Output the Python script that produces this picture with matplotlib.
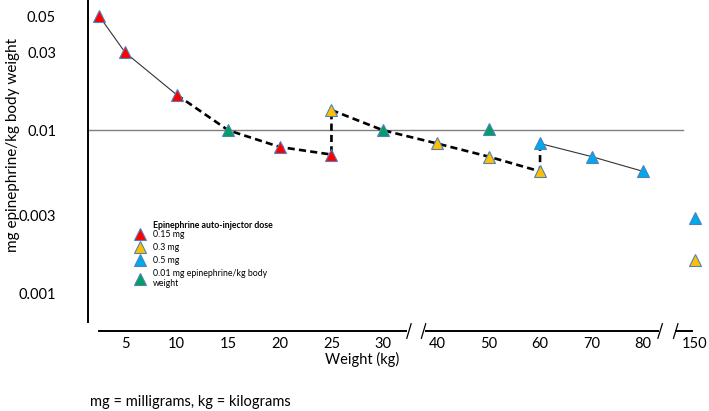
import numpy as np
import matplotlib.pyplot as plt
from matplotlib.lines import Line2D

plt.rcParams['font.family'] = ['Lato', 'DejaVu Sans']

# data (weight in kg, dose in mg/kg)
w_red = [2.5, 5, 10, 20, 25]
y_red = [0.05, 0.03, 0.0165, 0.0079, 0.0071]
w_yellow = [25, 40, 50, 60, 150]
y_yellow = [0.0133, 0.0083, 0.0069, 0.0056, 0.0016]
w_blue = [60, 70, 80, 150]
y_blue = [0.0083, 0.0069, 0.0056, 0.0029]
w_green = [15, 30, 50]
y_green = [0.01, 0.01, 0.0102]

# connecting lines
solid_a_w = [2.5, 5, 10]
solid_a_y = [0.05, 0.03, 0.0165]
dash_a_w = [10, 15, 20, 25, 25]
dash_a_y = [0.0165, 0.01, 0.0079, 0.0071, 0.0133]
dash_b_w = [25, 30, 40, 50, 60, 60]
dash_b_y = [0.0133, 0.01, 0.0083, 0.0069, 0.0056, 0.0083]
solid_b_w = [60, 70, 80, 82]
solid_b_y = [0.0083, 0.0069, 0.0056, 0.0054]

xticks = [5, 10, 15, 20, 25, 30, 40, 50, 60, 70, 80, 150]
yticks = [0.05, 0.03, 0.01, 0.003, 0.001]
ytick_labels = ['0.05', '0.03', '0.01', '0.003', '0.001']

# broken weight axis: piecewise linear position
knots_w = np.array([0, 30, 40, 80, 150, 200])
knots_p = np.array([73.4, 383, 437, 643, 695, 732.1])

def fwd(w):
    return np.interp(w, knots_w, knots_p)

def inv(p):
    return np.interp(p, knots_p, knots_w)

fig = plt.figure(figsize=(7.09, 4.11), dpi=100)
ax = fig.add_axes([88 / 709, 81 / 411, 621 / 709, 330 / 411])
ax.set_xscale('function', functions=(fwd, inv))
ax.set_yscale('log')
ax.set_xlim(1.41, 168.8)
ax.set_ylim(0.000598, 0.0628)

RED = '#ff0000'
YEL = '#ffc000'
BLU = '#00a8ec'
GRN = '#00a060'
EDGE = '#4f81bd'

ax.axhline(0.01, xmin=0, xmax=(683 - 88) / 621, color='#7f7f7f', lw=1.0, zorder=1)

ax.plot(solid_a_w, solid_a_y, color='#333333', lw=0.8, zorder=2)
ax.plot(solid_b_w, solid_b_y, color='#333333', lw=0.8, zorder=2)
ax.plot(dash_a_w, dash_a_y, color='black', lw=1.9, dashes=(2.7, 1.6), zorder=2)
ax.plot(dash_b_w, dash_b_y, color='black', lw=1.9, dashes=(2.7, 1.6), zorder=2)

ms = 8
for w, y, c in [(w_red, y_red, RED), (w_yellow, y_yellow, YEL),
                (w_blue, y_blue, BLU), (w_green, y_green, GRN)]:
    ax.plot(w, y, ls='none', marker='^', ms=ms, mfc=c, mec=EDGE, mew=0.8, zorder=3)

# axes styling
for s in ['top', 'right', 'bottom']:
    ax.spines[s].set_visible(False)
ax.spines['left'].set_linewidth(1.4)
ax.spines['left'].set_bounds(0.00067, 0.0628)

ax.set_yticks(yticks)
ax.set_yticklabels(ytick_labels)
ax.yaxis.set_minor_locator(plt.NullLocator())
ax.set_xticks(xticks)
ax.set_xticklabels([str(t) for t in xticks])
ax.xaxis.set_minor_locator(plt.NullLocator())
ax.tick_params(axis='y', length=0, pad=23, labelsize=10.5)
ax.tick_params(axis='x', length=0, pad=5, labelsize=10.5)

# x axis line pieces with break marks
tr = ax.get_xaxis_transform()
ax_y = -0.003
for a, b in [(2.5, 34.3), (37.9, 100), (124, 145.5)]:
    ax.plot([a, b], [ax_y, ax_y], color='black', lw=1.4, transform=tr, clip_on=False)
for bw in [34.8, 37.5, 103, 124]:
    d = 0.4 if bw < 40 else 3
    ax.plot([bw - d, bw + d], [ax_y - 0.022, ax_y + 0.022], color='black', lw=0.9,
            transform=tr, clip_on=False)

ax.set_xlabel('Weight (kg)', fontsize=10.5)
ax.xaxis.set_label_coords((362 - 88) / 621, -0.065)
ax.set_ylabel('mg epinephrine/kg body weight', fontsize=11)
ax.yaxis.set_label_coords(-(88 - 20) / 621, 0.56)

# legend
handles = [Line2D([], [], ls='none', marker='^', ms=8, mfc=c, mec=EDGE, mew=0.8)
           for c in [RED, YEL, BLU, GRN]]
labels = ['0.15 mg', '0.3 mg', '0.5 mg', '0.01 mg epinephrine/kg body\nweight']
leg = fig.legend(handles, labels, loc='upper left',
                 bbox_to_anchor=(136 / 709, 1 - 230 / 411),
                 frameon=False, fontsize=6.3,
                 handlelength=0.8, handletextpad=1.1, labelspacing=0.45,
                 borderpad=0, borderaxespad=0)
fig.text(153 / 709, 1 - 225.5 / 411, 'Epinephrine auto-injector dose', fontsize=6.3,
         fontweight='bold', va='center', ha='left')

fig.text(90 / 709, 1 - 402 / 411, 'mg = milligrams, kg = kilograms', fontsize=10.5,
         va='center', ha='left')

fig.savefig('out.png', dpi=100)
